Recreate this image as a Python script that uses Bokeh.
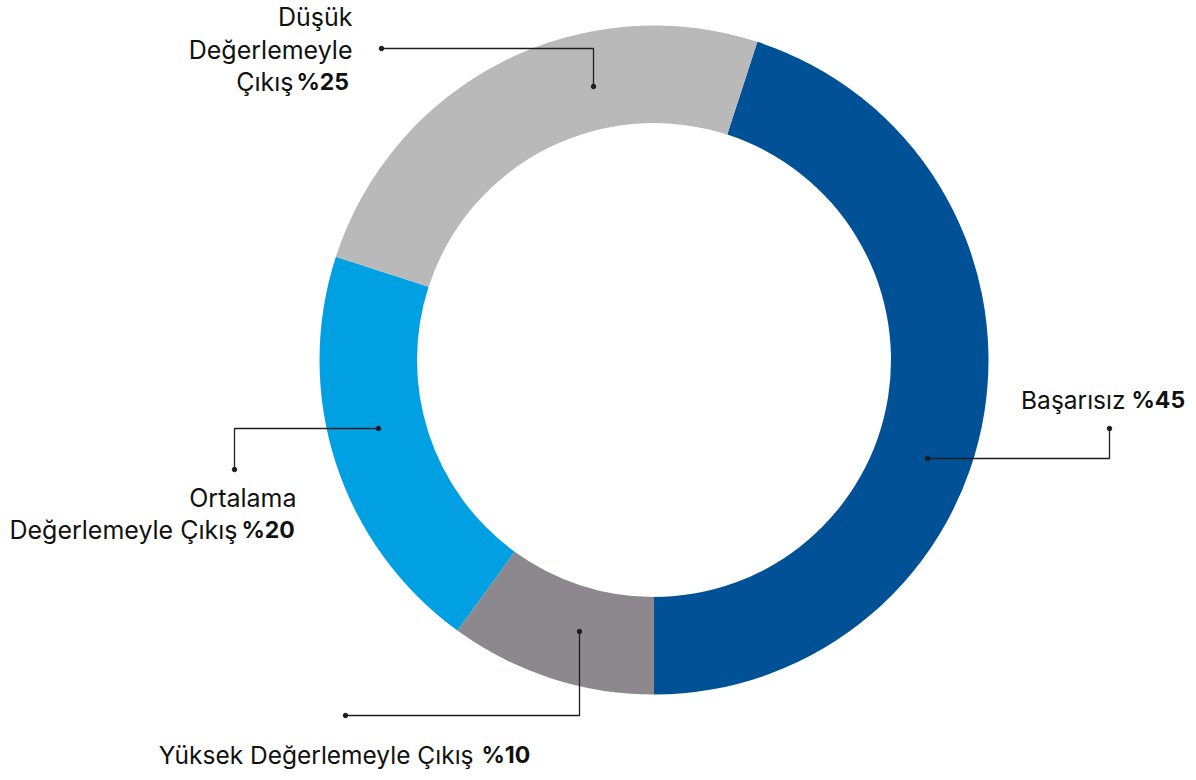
from bokeh.plotting import figure
from bokeh.models import Range1d, ColumnDataSource
from bokeh.core.properties import value
from bokeh.embed import file_html
from bokeh.resources import INLINE

# ---- data ----
categories = ["Başarısız", "Yüksek Değerlemeyle Çıkış", "Ortalama Değerlemeyle Çıkış", "Düşük Değerlemeyle Çıkış"]
shares = [45, 10, 20, 25]
colors = ["#005196", "#8D888E", "#00A0E3", "#BAB9BA"]
pct_labels = ["%" + str(v) for v in shares]

# ---- layout constants (screen pixels) ----
W, H = 1188, 772
def Y(ys):
    return 780 - ys

CX, CY = 653.5, 359.5
R_IN, R_OUT = 237, 334.5
START = 18.0  # degrees clockwise from top

p = figure(width=W, height=H, output_backend="svg", toolbar_location=None,
           x_range=Range1d(0, W), y_range=Range1d(780 - H, 780),
           min_border=0, outline_line_color=None, background_fill_color="white")
p.axis.visible = False
p.grid.visible = False

# wedges
starts, ends = [], []
cum = 0
for v in shares:
    s = START + 3.6 * cum
    e = s + 3.6 * v
    starts.append(90 - s)
    ends.append(90 - e)
    cum += v
src = ColumnDataSource(dict(start=starts, end=ends, color=colors, cat=categories))
p.annular_wedge(x=CX, y=Y(CY), inner_radius=R_IN, outer_radius=R_OUT,
                start_angle="start", end_angle="end", start_angle_units="deg",
                end_angle_units="deg", direction="clock", color="color",
                line_color=None, source=src)

# leader lines: polylines in screen coords
leaders = {
    "Düşük": [(381, 48), (593, 48), (593, 86)],
    "Ortalama": [(378, 428), (234, 428), (234, 469)],
    "Yüksek": [(579, 631), (579, 715), (345, 715)],
    "Başarısız": [(927, 458), (1109, 458), (1109, 428)],
}
LC = "#1e1e1e"
for pts in leaders.values():
    xs = [a for a, b in pts]
    ys = [Y(b) for a, b in pts]
    p.line(xs, ys, line_color=LC, line_width=1.3)
    p.scatter([xs[0], xs[-1]], [ys[0], ys[-1]], size=4.5, color=LC, marker="circle")

FONT = value("Inter")
FS = "25px"
BFS = "23px"
TC = "#111111"

def txt(x, y, t, align, bold=False, fs=FS):
    p.text(x=[x], y=[Y(y)], text=[t], text_font=FONT, text_font_size=fs,
           text_align=align, text_baseline="middle", text_color=TC,
           text_font_style="bold" if bold else "normal")

# Düşük block
txt(352, 16, "Düşük", "right")
txt(352, 49, "Değerlemeyle", "right")
txt(293, 81, "Çıkış", "right")
txt(296, 81, pct_labels[3], "left", True, BFS)

# Ortalama block
txt(296, 497, "Ortalama", "right")
txt(237, 529, "Değerlemeyle Çıkış", "right")
txt(241, 529, pct_labels[2], "left", True, BFS)

# Yüksek block
txt(473, 754, "Yüksek Değerlemeyle Çıkış", "right", False, "24.5px")
txt(481, 754, pct_labels[1], "left", True, BFS)

# Başarısız block
txt(1125, 399, "Başarısız", "right", False, "24.5px")
txt(1131, 399, pct_labels[0], "left", True, BFS)

open("out.html", "w").write(file_html(p, INLINE))
